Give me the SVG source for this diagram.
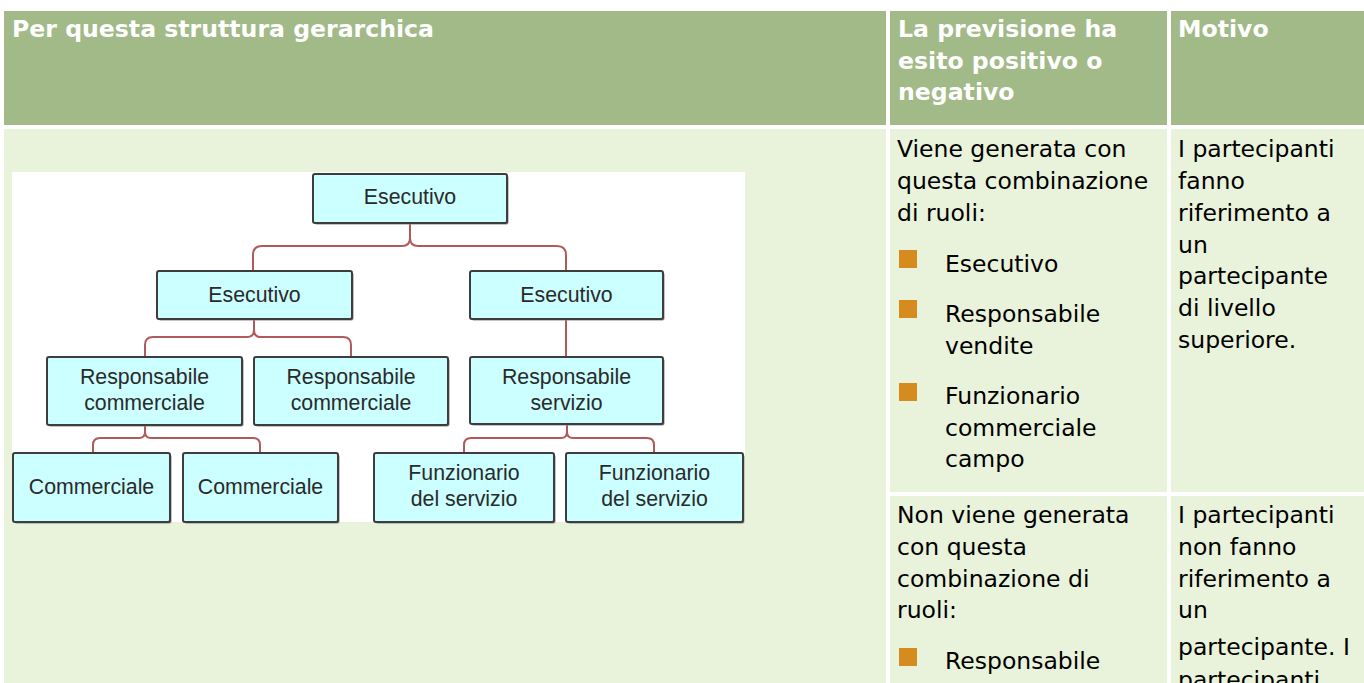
<svg xmlns="http://www.w3.org/2000/svg" width="1364" height="683" viewBox="0 0 1364 683">
<style>
.hd{fill:#A1BA87}
.bd{fill:#E9F2DA}
.ht{font-family:"DejaVu Sans",Verdana,sans-serif;font-size:23.6px;font-weight:bold;fill:#ffffff}
.bt{font-family:"DejaVu Sans",Verdana,sans-serif;font-size:23.5px;fill:#000000}
.bul{fill:#D68B1E}
.box{fill:#CCFFFF;stroke:#3d3d3d;stroke-width:2}
.sh{fill:#8a8a8a}
.nt{font-family:"Liberation Sans",Arial,Helvetica,sans-serif;font-size:21.3px;fill:#2a2a2a;text-anchor:middle}
.cn{fill:none;stroke:#B05A5C;stroke-width:2;stroke-linejoin:round}
</style>
<rect width="1364" height="683" fill="#ffffff"/>
<g id="table">
<rect class="hd" x="4" y="11" width="882" height="114"/>
<rect class="hd" x="890" y="11" width="277" height="114"/>
<rect class="hd" x="1171" y="11" width="193" height="114"/>
<rect class="bd" x="4" y="129" width="882" height="554"/>
<rect class="bd" x="890" y="129" width="277" height="363"/>
<rect class="bd" x="1171" y="129" width="193" height="363"/>
<rect class="bd" x="890" y="496" width="277" height="187"/>
<rect class="bd" x="1171" y="496" width="193" height="187"/>
</g>
<g id="headers">
<text class="ht" x="12" y="37">Per questa struttura gerarchica</text>
<text class="ht" x="898" y="37">La previsione ha</text>
<text class="ht" x="898" y="68.5">esito positivo o</text>
<text class="ht" x="898" y="100">negativo</text>
<text class="ht" x="1178" y="37">Motivo</text>
</g>
<g id="col2-row1">
<text class="bt" x="897" y="157">Viene generata con</text>
<text class="bt" x="897" y="189">questa combinazione</text>
<text class="bt" x="897" y="221">di ruoli:</text>
<rect class="bul" x="899" y="250" width="18" height="18"/>
<text class="bt" x="945" y="272">Esecutivo</text>
<rect class="bul" x="899" y="300" width="18" height="18"/>
<text class="bt" x="945" y="322">Responsabile</text>
<text class="bt" x="945" y="354">vendite</text>
<rect class="bul" x="899" y="383" width="18" height="18"/>
<text class="bt" x="945" y="404">Funzionario</text>
<text class="bt" x="945" y="436">commerciale</text>
<text class="bt" x="945" y="467">campo</text>
</g>
<g id="col3-row1">
<text class="bt" x="1178" y="157">I partecipanti</text>
<text class="bt" x="1178" y="189">fanno</text>
<text class="bt" x="1178" y="221">riferimento a</text>
<text class="bt" x="1178" y="253">un</text>
<text class="bt" x="1178" y="284">partecipante</text>
<text class="bt" x="1178" y="316">di livello</text>
<text class="bt" x="1178" y="348">superiore.</text>
</g>
<g id="col2-row2">
<text class="bt" x="897" y="523">Non viene generata</text>
<text class="bt" x="897" y="555">con questa</text>
<text class="bt" x="897" y="587">combinazione di</text>
<text class="bt" x="897" y="618">ruoli:</text>
<rect class="bul" x="899" y="648" width="18" height="18"/>
<text class="bt" x="945" y="669">Responsabile</text>
</g>
<g id="col3-row2">
<text class="bt" x="1178" y="523">I partecipanti</text>
<text class="bt" x="1178" y="555">non fanno</text>
<text class="bt" x="1178" y="587">riferimento a</text>
<text class="bt" x="1178" y="618">un</text>
<text class="bt" x="1178" y="655">partecipante. I</text>
<text class="bt" x="1178" y="688">partecipanti</text>
</g>
<rect id="chart-bg" x="12" y="172" width="733" height="350" fill="#ffffff"/>
<g id="connectors">
<path class="cn" d="M410,223 V238 Q410,246 402,246 H262 Q253,246 253,255 V271"/>
<path class="cn" d="M410,238 Q410,246 418,246 H557 Q566,246 566,255 V271"/>
<path class="cn" d="M254,319 V330 Q254,337 247,337 H153 Q145,337 145,345 V357"/>
<path class="cn" d="M254,330 Q254,337 261,337 H343 Q351,337 351,345 V357"/>
<path class="cn" d="M566,319 V357"/>
<path class="cn" d="M145,425 V432 Q145,438 139,438 H100 Q93,438 93,445 V453"/>
<path class="cn" d="M145,432 Q145,438 151,438 H253 Q260,438 260,445 V453"/>
<path class="cn" d="M567,424 V432 Q567,438 561,438 H471 Q464,438 464,445 V453"/>
<path class="cn" d="M567,432 Q567,438 573,438 H647 Q654,438 654,445 V453"/>
</g>
<g id="n-top">
<rect class="sh" x="314.5" y="175.5" width="194" height="49" rx="2"/>
<rect class="box" x="313" y="174" width="194" height="49" rx="2"/>
<text class="nt" x="410" y="204">Esecutivo</text>
</g>
<g id="n-exec-left">
<rect class="sh" x="158.5" y="272.5" width="195" height="48" rx="2"/>
<rect class="box" x="157" y="271" width="195" height="48" rx="2"/>
<text class="nt" x="254.5" y="302">Esecutivo</text>
</g>
<g id="n-exec-right">
<rect class="sh" x="471.5" y="272.5" width="193" height="48" rx="2"/>
<rect class="box" x="470" y="271" width="193" height="48" rx="2"/>
<text class="nt" x="566.5" y="302">Esecutivo</text>
</g>
<g id="n-rc1">
<rect class="sh" x="48.5" y="358.5" width="195" height="68" rx="2"/>
<rect class="box" x="47" y="357" width="195" height="68" rx="2"/>
<text class="nt" x="144.5" y="384">Responsabile</text>
<text class="nt" x="144.5" y="410">commerciale</text>
</g>
<g id="n-rc2">
<rect class="sh" x="255.5" y="358.5" width="194" height="68" rx="2"/>
<rect class="box" x="254" y="357" width="194" height="68" rx="2"/>
<text class="nt" x="351" y="384">Responsabile</text>
<text class="nt" x="351" y="410">commerciale</text>
</g>
<g id="n-rs">
<rect class="sh" x="471.5" y="358.5" width="193" height="67" rx="2"/>
<rect class="box" x="470" y="357" width="193" height="67" rx="2"/>
<text class="nt" x="566.5" y="384">Responsabile</text>
<text class="nt" x="566.5" y="410">servizio</text>
</g>
<g id="n-c1">
<rect class="sh" x="14.5" y="454.5" width="157" height="69" rx="2"/>
<rect class="box" x="13" y="453" width="157" height="69" rx="2"/>
<text class="nt" x="91.5" y="494">Commerciale</text>
</g>
<g id="n-c2">
<rect class="sh" x="184.5" y="454.5" width="155" height="69" rx="2"/>
<rect class="box" x="183" y="453" width="155" height="69" rx="2"/>
<text class="nt" x="260.5" y="494">Commerciale</text>
</g>
<g id="n-f1">
<rect class="sh" x="375.5" y="454.5" width="180" height="69" rx="2"/>
<rect class="box" x="374" y="453" width="180" height="69" rx="2"/>
<text class="nt" x="464" y="480">Funzionario</text>
<text class="nt" x="464" y="506">del servizio</text>
</g>
<g id="n-f2">
<rect class="sh" x="567.5" y="454.5" width="177" height="69" rx="2"/>
<rect class="box" x="566" y="453" width="177" height="69" rx="2"/>
<text class="nt" x="654.5" y="480">Funzionario</text>
<text class="nt" x="654.5" y="506">del servizio</text>
</g>
</svg>
